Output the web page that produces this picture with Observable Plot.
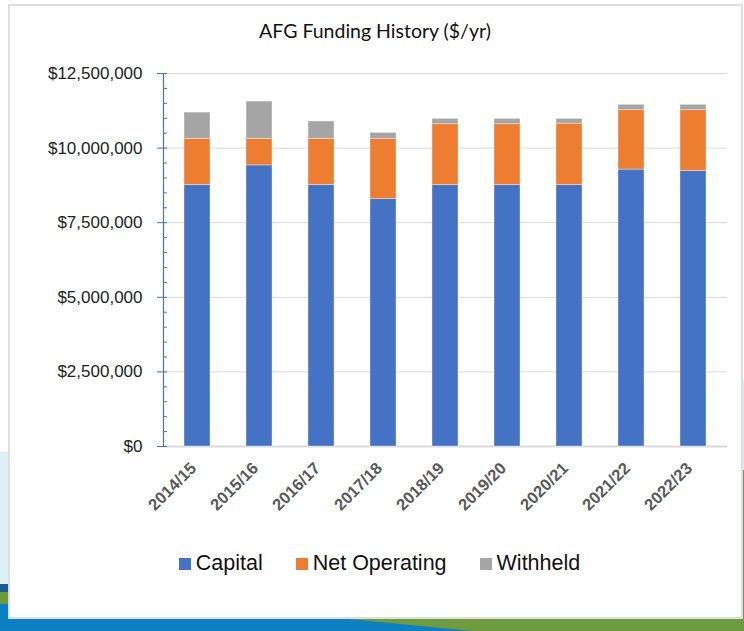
<!DOCTYPE html>
<html>
<head>
<meta charset="utf-8">
<script src="https://cdn.jsdelivr.net/npm/d3@7"></script>
<script src="https://cdn.jsdelivr.net/npm/@observablehq/plot@0.6"></script>
<style>
  html, body { margin: 0; padding: 0; }
  body { width: 744px; height: 631px; position: relative; overflow: hidden; background: #ffffff; font-family: "Liberation Sans", Arial, sans-serif; }
  .bg { position: absolute; }
  #box { position: absolute; left: 8px; top: 4px; width: 731px; height: 611px; background: #fff; border: 2px solid #dedede; }
  #title { position: absolute; left: 0; top: 19px; width: 750px; text-align: center; font-family: Lato, "Open Sans", sans-serif; font-size: 19.5px; color: #111; }
  #chart { position: absolute; left: 0; top: 0; }
  #legend { position: absolute; left: 0; top: 551px; width: 759px; display: flex; justify-content: center; gap: 33px; font-size: 21.5px; color: #111; }
  #legend .item { display: flex; align-items: center; gap: 5px; }
  #legend .sw { width: 12px; height: 12px; display: inline-block; }
</style>
</head>
<body>
<div class="bg" style="left:0;top:452px;width:40px;height:140px;background:#dcf1f7"></div>
<div class="bg" style="left:0;top:584px;width:744px;height:47px;background:linear-gradient(to bottom,#1b5e8e 0,#1b5e8e 8px,#6d9a3e 8px,#6d9a3e 20px,#0c80c3 20px)"></div>
<div class="bg" style="left:250px;top:600px;width:494px;height:31px;background:#6f9b3f;clip-path:polygon(0 30%,100% 0,100% 100%,45% 100%)"></div>
<div class="bg" style="left:736px;top:380px;width:8px;height:90px;background:#dcf1f7"></div>
<div class="bg" style="left:736px;top:470px;width:8px;height:130px;background:#6f9b3f"></div>
<div id="box"></div>
<div id="title">AFG Funding History ($/yr)</div>
<div id="chart"></div>
<div id="legend"></div>
<script>
const years = ["2014/15","2015/16","2016/17","2017/18","2018/19","2019/20","2020/21","2021/22","2022/23"];
const capital = [8760000, 9420000, 8760000, 8290000, 8760000, 8760000, 8760000, 9280000, 9230000];
const netOperating = [1550000, 890000, 1550000, 2020000, 2040000, 2040000, 2060000, 1990000, 2040000];
const withheld = [880000, 1250000, 580000, 200000, 180000, 180000, 160000, 180000, 180000];
const seriesNames = ["Capital", "Net Operating", "Withheld"];
const seriesColors = ["#4472c4", "#ed7d31", "#a5a5a5"];
const yMajorTicks = [0, 2500000, 5000000, 7500000, 10000000, 12500000];
const yMinorTicks = d3.range(0, 12500001, 500000).filter(v => v % 2500000 !== 0);

const seriesValues = [capital, netOperating, withheld];
const rows = seriesNames.flatMap((s, si) => years.map((y, i) => ({year: y, series: s, value: seriesValues[si][i]})));

const fmt = d3.format("$,.0f");

const chart = Plot.plot({
  width: 744,
  height: 520,
  marginLeft: 163,
  marginRight: 17,
  marginTop: 73,
  marginBottom: 74,
  style: {background: "transparent", fontFamily: "Liberation Sans, Arial, sans-serif"},
  x: {domain: years, paddingInner: 0.585, paddingOuter: 0.2925, label: null},
  y: {domain: [0, 12500000], label: null},
  color: {domain: seriesNames, range: seriesColors},
  marks: [
    Plot.gridY(yMajorTicks.filter(v => v > 0), {stroke: "#d9d9d9", strokeOpacity: 1, strokeWidth: 1}),
    Plot.ruleY([0], {stroke: "#d9d9d9", strokeWidth: 2}),
    Plot.barY(rows, {x: "year", y: "value", fill: "series", stroke: "#ffffff", strokeOpacity: 0.45, strokeWidth: 0.8}),
    Plot.frame({anchor: "left", stroke: "#4472c4", strokeWidth: 1.2}),
    Plot.axisY(yMinorTicks, {anchor: "left", tickSize: 4, dx: 4, text: null, stroke: "#4472c4"}),
    Plot.axisY(yMajorTicks, {anchor: "left", tickSize: 10, dx: 4, text: null, stroke: "#4472c4"}),
    Plot.axisY(yMajorTicks, {anchor: "left", tickSize: 0, tickPadding: 21, tickFormat: fmt, fontSize: 17, fill: "#222"}),
    Plot.axisX({anchor: "bottom", tickSize: 0, tickPadding: 8, tickRotate: -45, fontSize: 16.5, fontWeight: "bold", fill: "#595959", dx: -4, dy: 11})
  ]
});
document.getElementById("chart").appendChild(chart);

const legend = document.getElementById("legend");
seriesNames.forEach((s, i) => {
  const item = document.createElement("div");
  item.className = "item";
  const sw = document.createElement("span");
  sw.className = "sw";
  sw.style.background = seriesColors[i];
  const t = document.createElement("span");
  t.textContent = s;
  item.appendChild(sw);
  item.appendChild(t);
  legend.appendChild(item);
});
</script>
</body>
</html>
